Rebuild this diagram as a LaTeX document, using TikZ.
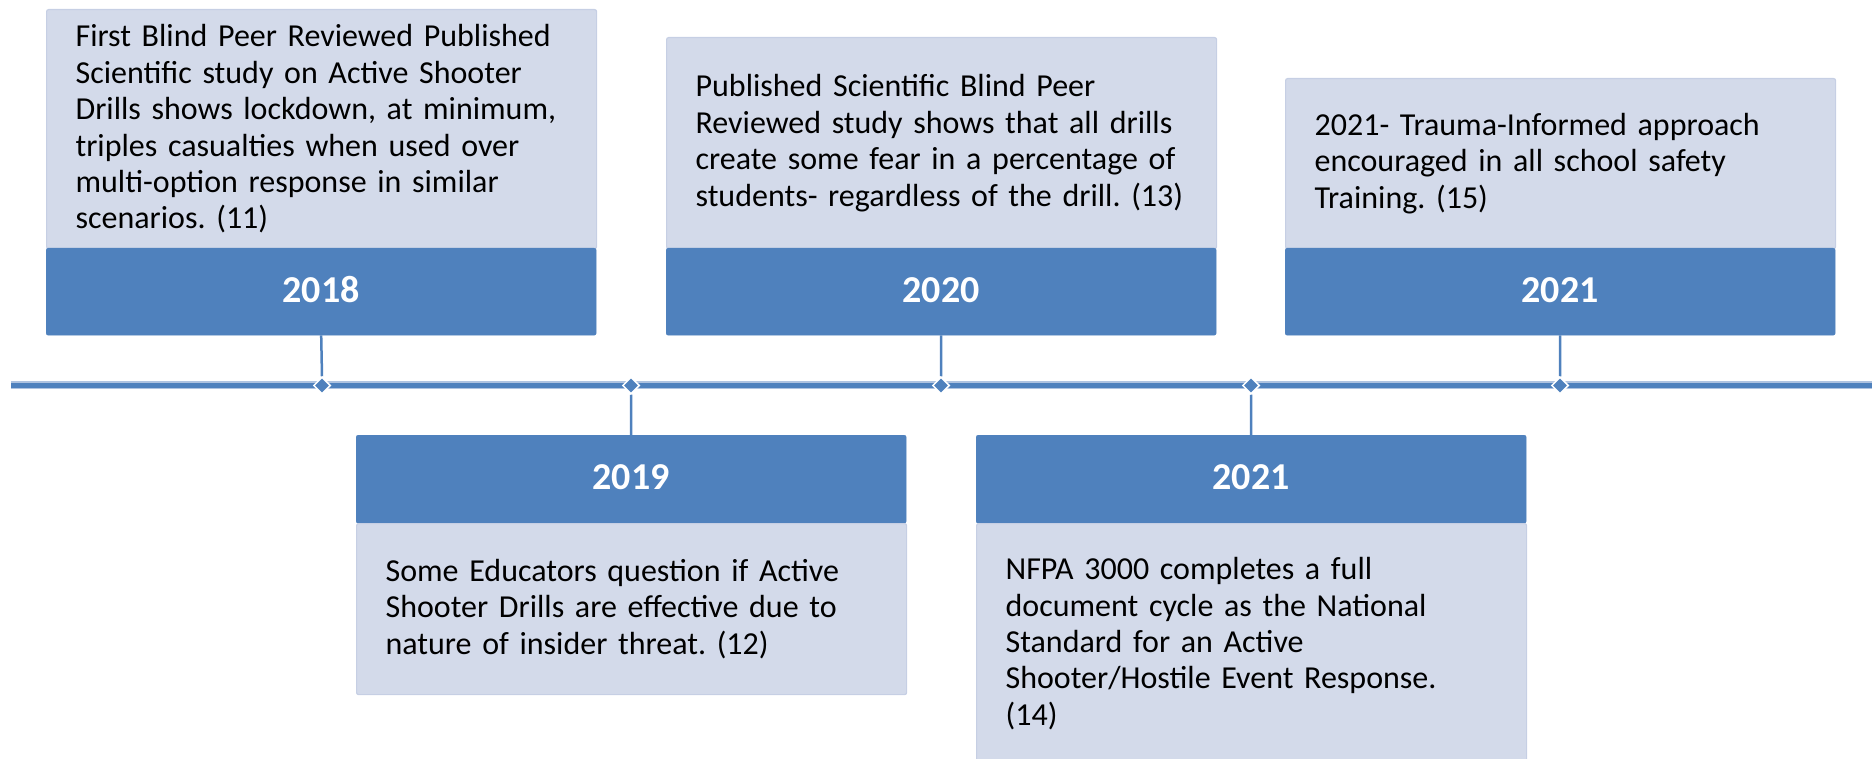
\documentclass[tikz,border=0pt]{standalone}
\usepackage{fontspec}
\setmainfont{Carlito}
\frenchspacing
\usetikzlibrary{shapes.geometric}
\definecolor{darkblue}{HTML}{4F81BD}
\definecolor{lightblue}{HTML}{D3DAEA}
\definecolor{lightedge}{HTML}{C6CFE4}
\definecolor{lineedge}{HTML}{AFC3E0}
\tikzset{
  lightbox/.style={draw=lightedge, line width=1.2pt, fill=lightblue, rounded corners=2pt,
    minimum width=550pt, text width=492pt, inner xsep=29pt, inner ysep=0pt,
    align=left, anchor=north west, font=\fontsize{32pt}{36.4pt}\selectfont, text=black},
  headbox/.style={fill=darkblue, draw=darkblue, rounded corners=2pt, minimum width=550pt,
    inner sep=0pt, anchor=north west, text=white, font=\fontsize{38pt}{40pt}\selectfont\bfseries},
  dia/.style={diamond, fill=darkblue, draw=white, line width=1.5pt, inner sep=0pt,
    minimum width=17pt, minimum height=17pt},
  conn/.style={draw=darkblue, line width=2.5pt},
}
\newcommand{\yr}[1]{\raisebox{4pt}{#1}}
\begin{document}
\begin{tikzpicture}[x=1pt,y=1pt]
\useasboundingbox (0,0) rectangle (1875,-759);
% timeline
\coordinate (tl) at (11,-385.5);
\coordinate (tr) at (1872,-385.5);
\draw[lineedge, line width=8pt] (tl) -- (tr);
\draw[darkblue, line width=5pt] (tl) -- (tr);
% top boxes
\node[lightbox, minimum height=239pt] (b1) at (46,-9)
  {First Blind Peer Reviewed Published\\ Scientific study on Active Shooter\\ Drills shows lockdown, at minimum,\\ triples casualties when used over\\ multi-option response in similar\\ scenarios. (11)};
\node[headbox, minimum height=87pt] (h1) at (46,-248) {\yr{2018}};
\node[lightbox, minimum height=211pt] (b2) at (666,-37)
  {Published Scientific Blind Peer\\ Reviewed study shows that all drills\\ create some fear in a percentage of\\ students- regardless of the drill. (13)};
\node[headbox, minimum height=87pt] (h2) at (666,-248) {\yr{2020}};
\node[lightbox, minimum height=170pt] (b3) at (1285,-78)
  {2021- Trauma-Informed approach\\ encouraged in all school safety\\ Training. (15)};
\node[headbox, minimum height=87pt] (h3) at (1285,-248) {\yr{2021}};
% bottom boxes
\node[headbox, minimum height=88pt] (h4) at (356,-435) {\yr{2019}};
\node[lightbox, minimum height=171pt] (b4) at (356,-523)
  {Some Educators question if Active\\ Shooter Drills are effective due to\\ nature of insider threat. (12)};
\node[headbox, minimum height=88pt] (h5) at (976,-435) {\yr{2021}};
\node[lightbox, minimum height=240pt] (b5) at (976,-523)
  {NFPA 3000 completes a full\\ document cycle as the National\\ Standard for an Active\\ Shooter/Hostile Event Response.\\ (14)};
% diamonds and connectors
\node[dia] (d1) at (322,-385.5) {};
\node[dia] (d2) at (631,-385.5) {};
\node[dia] (d3) at (941,-385.5) {};
\node[dia] (d4) at (1251,-385.5) {};
\node[dia] (d5) at (1560,-385.5) {};
\draw[conn] (h1.south) -- (d1.north);
\draw[conn] (h2.south) -- (d3.north);
\draw[conn] (h3.south) -- (d5.north);
\draw[conn] (d2.south) -- (h4.north);
\draw[conn] (d4.south) -- (h5.north);
\end{tikzpicture}
\end{document}
